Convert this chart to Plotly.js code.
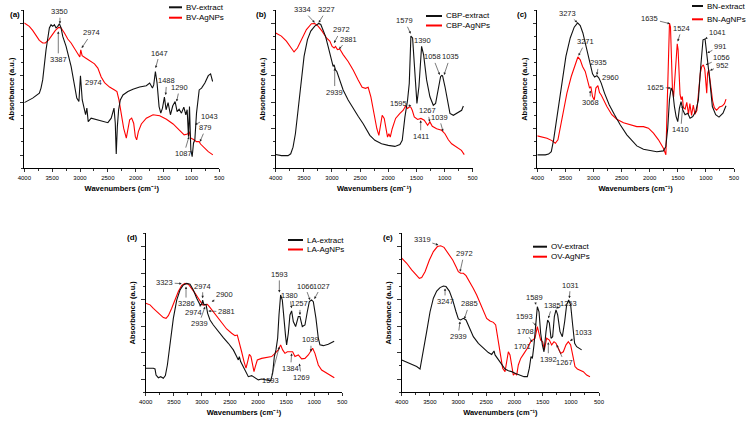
<!DOCTYPE html>
<html>
<head>
<meta charset="utf-8">
<script src="https://cdn.plot.ly/plotly-3.0.1.min.js"></script>
<style>html,body{margin:0;padding:0;background:#fff;}#chart{width:749px;height:424px;}</style>
</head>
<body>
<div id="chart"></div>
<script>
// ---------------- DATA ----------------
const xTickLabels = [4000, 3500, 3000, 2500, 2000, 1500, 1000, 500];
const panelNames = ['(a)', '(b)', '(c)', '(d)', '(e)'];
const extractNames = ['BV-extract', 'CBP-extract', 'BN-extract', 'LA-extract', 'OV-extract'];
const agnpNames = ['BV-AgNPs', 'CBP-AgNPs', 'BN-AgNPs', 'LA-AgNPs', 'OV-AgNPs'];

// (a) BV
const bvExtractWn = [4000,3850,3730,3700,3670,3610,3550,3520,3490,3460,3430,3400,3370,3340,3310,3250,3160,3100,3058,3020,2992,2960,2920,2900,2877,2853,2800,2710,2590,2500,2440,2390,2367,2350,2330,2307,2277,2229,2140,2050,1930,1810,1750,1700,1677,1647,1617,1581,1550,1520,1485,1455,1419,1377,1335,1293,1257,1221,1179,1137,1101,1077,1053,1035,1011,987,963,939,909,861,819,759,698,656,620];
const bvExtractAbs = [2.49,2.66,2.85,3.04,3.35,4.49,5.32,5.44,5.38,5.44,5.32,5.38,5.48,5.32,5.00,4.62,3.86,3.10,2.66,2.53,3.51,2.59,2.22,2.03,2.28,1.77,1.90,1.84,1.77,1.73,1.90,2.28,1.71,0.54,1.58,2.22,2.59,2.78,2.91,3.00,3.08,3.13,3.23,3.04,3.16,3.67,3.23,2.34,2.09,2.28,2.70,2.22,2.49,2.03,2.37,2.53,2.15,2.24,2.09,2.32,2.03,2.22,1.20,2.34,0.70,0.44,0.95,1.08,2.09,2.97,3.04,3.23,3.51,3.58,3.29];
const bvAgnpWn = [4000,3910,3850,3790,3730,3670,3622,3562,3502,3442,3382,3340,3280,3220,3160,3100,3040,3004,2986,2962,2900,2830,2740,2680,2620,2560,2470,2380,2337,2301,2259,2217,2169,2139,2109,2073,2037,2007,1983,1953,1899,1810,1689,1569,1449,1329,1209,1131,1071,1041,1011,969,909,861,837,777,698,615];
const bvAgnpAbs = [5.51,5.38,5.23,5.03,4.85,4.75,4.75,4.87,5.06,5.23,5.34,5.32,5.13,4.90,4.75,4.56,4.34,4.22,4.49,4.27,4.18,4.09,3.96,3.80,3.46,3.25,3.08,2.97,2.91,2.59,2.09,1.52,1.14,1.58,1.84,1.90,1.71,1.20,1.08,1.39,1.68,1.90,2.03,1.99,1.86,1.68,1.43,1.27,1.30,1.39,1.14,1.10,1.01,1.01,0.92,0.80,0.63,0.51];

// (b) CBP
const cbpExtractWn = [4000,3899,3781,3733,3692,3650,3603,3555,3496,3436,3377,3306,3235,3199,3158,3116,3069,3021,2980,2962,2938,2914,2861,2802,2713,2624,2535,2446,2369,2327,2238,2119,2001,1882,1793,1752,1704,1657,1627,1598,1568,1526,1491,1455,1408,1372,1319,1260,1200,1159,1111,1070,1050,1035,993,945,904,844,755,696,666];
const cbpExtractAbs = [0.52,0.48,0.48,0.55,0.80,1.31,2.20,3.22,4.24,4.88,5.20,5.39,5.49,5.45,5.26,5.01,4.62,4.18,3.86,3.92,3.73,3.67,3.35,2.97,2.59,2.27,1.97,1.69,1.38,1.25,1.06,0.93,0.87,0.83,0.90,1.06,1.95,2.59,3.22,5.01,4.94,3.35,2.46,3.10,4.62,4.30,3.35,2.71,2.39,2.46,3.10,3.48,3.52,3.50,3.10,2.46,2.08,2.01,2.14,2.20,2.36];
const cbpAgnpWn = [4000,3899,3810,3721,3674,3614,3543,3454,3365,3306,3247,3176,3098,3039,2997,2962,2938,2903,2861,2802,2713,2624,2535,2464,2404,2357,2309,2250,2203,2167,2143,2108,2072,2042,2013,1989,1965,1930,1870,1793,1734,1693,1657,1622,1598,1574,1538,1479,1420,1361,1301,1260,1218,1141,1052,993,933,874,785,700,650];
const cbpAgnpAbs = [5.13,5.01,4.82,4.52,4.41,4.56,4.88,5.26,5.48,5.49,5.39,5.20,4.94,4.82,4.62,4.56,4.62,4.50,4.52,4.31,4.05,3.73,3.35,3.07,3.03,3.07,2.71,1.95,1.50,1.25,1.63,2.01,1.89,1.50,1.18,1.31,1.18,1.50,1.89,2.08,2.20,2.36,2.27,2.33,2.31,2.20,1.95,1.85,1.89,1.82,1.63,1.76,1.59,1.50,1.44,1.31,1.08,0.93,0.80,0.68,0.52];

// (c) BN
const bnExtractWn = [4000,3858,3799,3751,3710,3668,3621,3562,3491,3414,3343,3283,3236,3189,3135,3076,3017,2981,2940,2904,2863,2804,2721,2626,2525,2407,2318,2229,2111,1992,1874,1756,1714,1679,1649,1619,1590,1560,1530,1501,1471,1442,1412,1371,1323,1282,1234,1181,1134,1092,1051,1015,986,962,932,885,826,767,696,642];
const bnExtractAbs = [0.51,0.51,0.54,0.63,1.08,1.71,2.47,3.35,4.24,4.94,5.35,5.51,5.41,5.13,4.62,4.05,3.58,3.46,3.51,3.42,3.23,2.85,2.41,2.03,1.65,1.27,1.05,0.85,0.72,0.67,0.63,0.66,0.82,1.52,2.59,3.04,2.91,2.34,1.96,1.77,2.28,2.53,2.22,2.03,2.09,1.90,1.96,2.15,2.59,3.86,4.87,4.90,4.37,4.11,3.35,2.34,2.03,1.94,2.09,2.37];
const bnAgnpWn = [4000,3917,3828,3739,3680,3633,3591,3532,3473,3396,3325,3278,3236,3195,3147,3100,3070,3047,3017,2987,2958,2922,2893,2863,2822,2762,2674,2585,2466,2348,2229,2111,2022,1933,1844,1756,1712,1690,1668,1648,1630,1612,1595,1575,1555,1530,1510,1495,1478,1460,1440,1420,1400,1370,1340,1310,1285,1255,1225,1195,1160,1130,1100,1075,1045,1020,1000,985,970,950,930,910,880,850,810,760,710,670,642];
const bnAgnpAbs = [1.23,1.20,1.14,1.05,0.95,1.08,1.58,2.22,2.85,3.48,3.92,4.22,4.11,3.86,3.67,3.23,3.04,3.10,2.72,2.59,3.04,3.13,2.87,2.78,2.59,2.34,2.03,1.86,1.73,1.65,1.58,1.58,1.52,1.33,1.08,0.76,0.51,2.30,4.60,5.50,5.35,4.20,3.00,2.70,3.30,4.30,4.72,4.50,3.40,2.80,2.60,2.72,2.30,2.25,2.50,2.05,2.45,2.00,2.40,2.05,2.20,3.00,3.60,3.85,3.92,3.75,3.00,2.85,3.60,3.73,3.40,3.05,2.55,2.30,2.20,2.32,2.36,2.45,2.62];

// (d) LA
const laExtractWn = [4000,3864,3834,3816,3775,3733,3686,3650,3614,3567,3508,3448,3389,3330,3270,3211,3152,3092,3033,3003,2986,2962,2926,2897,2855,2796,2707,2618,2529,2440,2381,2351,2333,2310,2233,2173,2114,2054,1995,1936,1847,1776,1740,1710,1681,1651,1627,1598,1568,1539,1509,1491,1461,1432,1402,1372,1331,1283,1254,1212,1165,1123,1087,1046,1016,969,927,898,838,749,690,645];
const laExtractAbs = [0.91,0.91,0.88,0.65,0.55,0.59,0.53,0.63,1.03,1.79,2.79,3.48,3.86,4.05,4.11,4.08,3.86,3.55,3.30,3.32,3.48,3.30,3.32,2.98,2.73,2.54,2.29,2.06,1.85,1.60,1.35,1.22,1.35,1.16,0.84,0.59,0.63,0.55,0.47,0.50,0.47,0.43,0.72,1.35,1.60,2.04,2.92,3.67,3.48,2.67,2.10,1.79,2.23,2.92,3.07,2.67,2.48,2.86,2.86,2.48,2.54,3.04,3.42,3.48,3.42,2.79,2.04,1.79,1.76,1.81,1.87,1.93];
const laAgnpWn = [4000,3923,3864,3804,3745,3686,3638,3597,3537,3478,3419,3359,3300,3241,3181,3122,3063,3021,2986,2944,2903,2867,2808,2736,2647,2559,2470,2410,2369,2333,2292,2250,2214,2185,2155,2126,2096,2072,2049,2013,1936,1847,1758,1698,1639,1598,1562,1521,1479,1432,1384,1343,1283,1224,1165,1105,1064,1028,987,927,868,779,700,642];
const laAgnpAbs = [3.36,3.30,3.17,3.04,2.92,2.82,2.79,2.89,3.17,3.48,3.80,4.03,4.11,4.08,3.92,3.74,3.55,3.42,3.30,3.30,3.32,3.23,3.07,2.86,2.60,2.39,2.23,2.14,2.16,1.91,1.53,1.16,0.91,1.16,1.43,1.35,1.06,0.78,0.97,1.22,1.28,1.31,1.35,1.47,1.60,1.79,1.60,1.47,1.53,1.53,1.53,1.35,1.41,1.26,1.28,1.41,1.53,1.66,1.47,1.03,0.84,0.72,0.63,0.55];

// (e) OV
const ovExtractWn = [4000,3852,3734,3675,3616,3557,3497,3438,3379,3320,3261,3214,3155,3095,3036,2995,2954,2906,2859,2800,2729,2640,2552,2463,2404,2362,2344,2285,2226,2167,2108,2049,1990,1901,1830,1771,1736,1706,1682,1653,1623,1594,1564,1535,1505,1476,1440,1411,1381,1351,1322,1292,1263,1233,1192,1150,1109,1074,1038,1003,967,932,896,849,808];
const ovExtractAbs = [1.22,1.09,0.97,0.88,1.53,2.29,3.04,3.55,3.82,3.95,4.01,3.99,3.82,3.48,3.04,2.77,2.73,2.79,2.73,2.42,2.10,1.85,1.66,1.50,1.43,1.56,1.41,1.22,1.06,0.88,0.81,0.78,0.72,0.65,0.59,0.59,0.91,1.35,1.28,1.79,2.54,3.23,3.04,2.23,1.79,1.53,2.29,2.73,2.62,2.04,2.10,2.86,3.11,2.92,2.29,2.10,2.67,3.30,3.48,3.30,2.54,1.85,1.72,1.66,1.60];
const ovAgnpWn = [4000,3911,3823,3746,3687,3645,3586,3509,3438,3367,3308,3249,3172,3095,3036,2995,2954,2906,2859,2800,2729,2670,2611,2552,2493,2433,2374,2333,2297,2256,2209,2167,2138,2108,2079,2049,2020,1990,1960,1931,1889,1830,1771,1712,1676,1635,1594,1564,1535,1499,1470,1428,1381,1340,1298,1263,1222,1180,1133,1085,1044,1003,967,926,884,837,778,719,660];
const ovAgnpAbs = [5.06,4.87,4.62,4.43,4.30,4.33,4.55,4.99,5.31,5.50,5.53,5.47,5.25,4.99,4.74,4.55,4.49,4.49,4.40,4.20,3.92,3.67,3.36,3.04,2.79,2.69,2.64,2.54,2.04,1.41,0.91,0.78,1.16,1.53,1.41,0.97,0.65,0.72,0.65,1.03,1.28,1.47,1.66,1.91,1.97,2.04,2.48,2.23,1.97,1.91,1.60,2.04,1.97,1.79,1.91,1.85,1.66,1.47,1.53,1.79,1.91,1.79,1.41,0.97,0.88,0.84,0.78,0.65,0.59];

// Peak labels: text, wavenumber and absorbance of the marked point
const aPeakText = ['3350','3387','2974','2974','1647','1488','1290','1043','879','1087'];
const aPeakWn = [3360,3390,2970,2958,1643,1463,1266,937,847,1044];
const aPeakAbs = [5.48,5.19,4.56,3.51,3.80,2.78,2.53,1.65,1.01,1.20];
const bPeakText = ['3334','3227','2972','2881','2939','1579','1390','1058','1035','1595','1267','1411','1039'];
const bPeakWn = [3307,3236,2964,2875,2952,1602,1412,1086,1009,1590,1264,1424,1027];
const bPeakAbs = [5.52,5.52,4.75,4.52,3.80,5.10,4.62,3.54,3.54,2.36,1.76,1.82,1.40];
const cPeakText = ['3273','3271','2935','2960','3068','1635','1524','1625','1410','1041','991','1056','952'];
const cPeakWn = [3290,3266,2940,2881,3058,1640,1501,1625,1412,1015,974,1003,927];
const cPeakAbs = [5.53,4.27,3.54,3.23,2.95,5.48,4.81,3.04,2.37,4.90,4.37,3.92,3.71];
const dPeakText = ['3323','3286','2974','2900','2881','2974','2939','1593','1380','1257','1066','1027','1039','1384','1269','1593'];
const dPeakWn = [3359,3282,2986,2825,2885,3003,2944,1621,1402,1254,1075,998,1058,1402,1265,1621];
const dPeakAbs = [4.10,3.99,3.55,3.42,3.07,3.32,3.23,3.77,3.17,2.92,3.48,3.52,1.53,1.47,1.09,1.72];
const ePeakText = ['3319','2972','3247','2885','2939','1589','1385','1253','1031','1593','1708','1701','1392','1267','1033'];
const ePeakWn = [3350,2965,3231,2889,2965,1617,1399,1263,1026,1606,1683,1706,1399,1251,1014];
const ePeakAbs = [5.56,4.55,3.92,2.77,2.67,3.30,2.79,3.17,3.55,2.52,1.89,1.51,1.89,1.79,1.94];

// ---------------- STYLE / LAYOUT ----------------
const W = 749, H = 424;
const FONT = 'Liberation Sans, Arial, Helvetica, sans-serif';
const px = v => v / W;
const py = v => 1 - v / H;

// label offsets (pixels from marked point to text centre)
const aOff = [[0,-12],[0,28],[10,-15],[11,7],[4,-15],[1,-14],[3,-14],[15,-8],[6,-14],[-5,17]];
const bOff = [[-12,-13],[8,-13],[7,-13],[9,-10],[0,24],[-6,-13],[1,-6],[-7,-18],[6,-18],[-13,-3],[-2,-11],[0,16],[-4,-14]];
const cOff = [[-10,-9],[7,-14],[2,-12],[10,-6],[0,12],[-20,-5],[4,-13],[-15,-1],[-2,24],[12,-7],[13,-7],[16,-7],[12,-5]];
const dOff = [[-17,-1],[0,17],[0,-12],[13,-7],[18,1],[-8,8],[-6,17],[0,-18],[-2,-13],[0,-11],[-5,-14],[7,-13],[0,-12],[-1,15],[2,14],[-9,34]];
const eOff = [[-16,-5],[4,-18],[0,13],[5,-15],[-2,15],[-2,-7],[4,-13],[13,-5],[1,-13],[-12,-9],[-7,-11],[-9,-6],[0,17],[8,18],[13,-8]];

const panels = [
  {ext:[bvExtractWn,bvExtractAbs], ag:[bvAgnpWn,bvAgnpAbs], pk:[aPeakText,aPeakWn,aPeakAbs], off:aOff,
   xd:[24.3,219.3], yd:[10,168.3], lab:[15,14], leg:{x0:169,x1:182,y:[7.3,17.7],tx:184}},
  {ext:[cbpExtractWn,cbpExtractAbs], ag:[cbpAgnpWn,cbpAgnpAbs], pk:[bPeakText,bPeakWn,bPeakAbs], off:bOff,
   xd:[275.7,472.7], yd:[10,168.3], lab:[261,14], leg:{x0:426,x1:442,y:[16,25.5],tx:444}},
  {ext:[bnExtractWn,bnExtractAbs], ag:[bnAgnpWn,bnAgnpAbs], pk:[cPeakText,cPeakWn,cPeakAbs], off:cOff,
   xd:[537.3,734], yd:[10,168.3], lab:[522,14], leg:{x0:692,x1:703,y:[6,19.3],tx:705}},
  {ext:[laExtractWn,laExtractAbs], ag:[laAgnpWn,laAgnpAbs], pk:[dPeakText,dPeakWn,dPeakAbs], off:dOff,
   xd:[145.7,342.3], yd:[233.3,392.3], lab:[132,237], leg:{x0:288,x1:303,y:[240,249.5],tx:305}},
  {ext:[ovExtractWn,ovExtractAbs], ag:[ovAgnpWn,ovAgnpAbs], pk:[ePeakText,ePeakWn,ePeakAbs], off:eOff,
   xd:[401.7,599], yd:[233.3,392.3], lab:[388,237], leg:{x0:533,x1:547,y:[246.7,256.7],tx:549}}
];

const traces = [];
const layout = {
  width: W, height: H,
  margin: {l:0, r:0, t:0, b:0},
  paper_bgcolor: '#fff', plot_bgcolor: 'rgba(0,0,0,0)',
  showlegend: false,
  font: {family: FONT, color: '#000', size: 8},
  annotations: [], shapes: []
};

panels.forEach((p, i) => {
  const n = i === 0 ? '' : String(i + 1);
  const xa = 'x' + n, ya = 'y' + n;
  traces.push({x: p.ag[0], y: p.ag[1], xaxis: xa, yaxis: ya, type: 'scatter', mode: 'lines',
    name: agnpNames[i], line: {color: '#ff0000', width: 1.1}, hoverinfo: 'skip'});
  traces.push({x: p.ext[0], y: p.ext[1], xaxis: xa, yaxis: ya, type: 'scatter', mode: 'lines',
    name: extractNames[i], line: {color: '#111', width: 1.1}, hoverinfo: 'skip'});

  layout['xaxis' + n] = {
    domain: [px(p.xd[0]), px(p.xd[1])], anchor: ya,
    range: [4000, 500], autorange: false,
    tickmode: 'array', tickvals: xTickLabels, ticktext: xTickLabels.map(String),
    ticks: 'outside', ticklen: 3, tickwidth: 0.8, tickcolor: '#000',
    minor: {tickmode: 'linear', tick0: 250, dtick: 500, ticks: 'outside', ticklen: 2, tickwidth: 0.8, tickcolor: '#000'},
    tickfont: {size: 6, family: FONT, color: '#000'},
    showline: true, linecolor: '#000', linewidth: 1, showgrid: false, zeroline: false,
    title: {text: 'Wavenumbers (cm\u207B\u00B9)', font: {size: 7.5, family: FONT, color: '#000', weight: 'bold'}, standoff: 6}
  };
  layout['yaxis' + n] = {
    domain: [py(p.yd[1]), py(p.yd[0])], anchor: xa,
    range: [0, 6], autorange: false,
    tickmode: 'linear', tick0: 0.5, dtick: 1,
    ticks: 'outside', ticklen: 3.5, tickwidth: 0.8, tickcolor: '#000',
    minor: {tickmode: 'linear', tick0: 0, dtick: 1, ticks: 'outside', ticklen: 2, tickwidth: 0.8, tickcolor: '#000'},
    showticklabels: false,
    showline: true, linecolor: '#000', linewidth: 1, showgrid: false, zeroline: false,
    title: {text: 'Absorbance (a.u.)', font: {size: 7.5, family: FONT, color: '#000', weight: 'bold'}, standoff: 4}
  };

  // panel letter
  layout.annotations.push({xref: 'paper', yref: 'paper', x: px(p.lab[0]), y: py(p.lab[1]),
    xanchor: 'center', yanchor: 'middle', showarrow: false, text: panelNames[i],
    font: {size: 8, family: FONT, color: '#000', weight: 'bold'}});

  // legend (drawn compactly)
  const legNames = [extractNames[i], agnpNames[i]];
  const legCols = ['#111', '#ff0000'];
  [0, 1].forEach(k => {
    layout.shapes.push({type: 'line', xref: 'paper', yref: 'paper',
      x0: px(p.leg.x0), x1: px(p.leg.x1), y0: py(p.leg.y[k]), y1: py(p.leg.y[k]),
      line: {color: legCols[k], width: 2}});
    layout.annotations.push({xref: 'paper', yref: 'paper', x: px(p.leg.tx), y: py(p.leg.y[k]),
      xanchor: 'left', yanchor: 'middle', showarrow: false, text: legNames[k],
      font: {size: 8, family: FONT, color: '#000'}});
  });

  // peak labels
  const [txt, wn, ab] = p.pk;
  txt.forEach((t, k) => {
    layout.annotations.push({xref: xa, yref: ya, x: wn[k], y: ab[k], text: t,
      showarrow: true, ax: p.off[k][0], ay: p.off[k][1],
      arrowhead: 2, arrowsize: 0.8, arrowwidth: 0.6, arrowcolor: '#222', standoff: 0,
      font: {size: 7.5, family: FONT, color: '#222'}});
  });
});

Plotly.newPlot('chart', traces, layout, {staticPlot: true, displayModeBar: false});
</script>
</body>
</html>
